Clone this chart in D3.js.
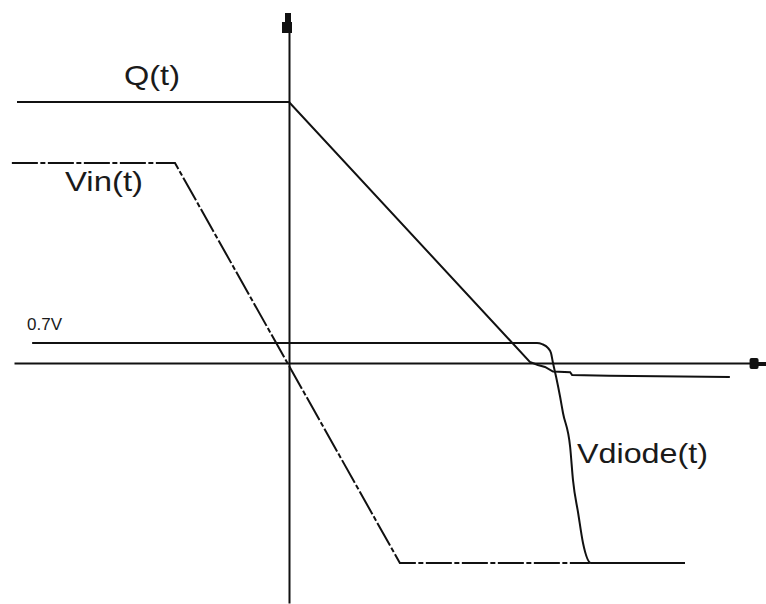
<!DOCTYPE html>
<html>
<head>
<meta charset="utf-8">
<script src="https://cdn.jsdelivr.net/npm/d3@7"></script>
<style>
  body { margin: 0; background: #fff; }
  svg { display: block; }
  text { font-family: "Liberation Sans", Arial, sans-serif; fill: #1a1a1a; }
</style>
</head>
<body>
<svg width="766" height="604"></svg>
<script>
// data (time units on x, signal units on y, 0.7V threshold = 0.7)
const qT    = [-9.52, 0, 8.43, 8.71, 8.96, 9.24, 9.84, 9.91, 11.2, 15.43];
const qV    = [9.135, 9.135, 0.04, -0.07, -0.14, -0.3, -0.32, -0.42, -0.45, -0.49];

const vinT  = [-9.7, -3.99, 3.88, 10.53];
const vinV  = [7.0, 7.0, -7.0, -7.0];

const vdT   = [-8.99, 8.68, 8.86, 9.07, 9.17, 9.24, 9.35, 9.49, 9.59, 9.84, 9.94, 10.12, 10.29, 10.57, 13.86];
const vdV   = [0.7, 0.7, 0.66, 0.52, 0.35, 0.0, -0.49, -1.19, -1.75, -2.94, -4.1, -5.25, -6.3, -7.0, -7.0];

const labels = ["Q(t)", "Vin(t)", "0.7V", "Vdiode(t)"];

let svg = d3.select('svg');

// scales: 0 on both axes sits at (289, 363)
let x = d3.scaleLinear().domain([-9.625, 16.625]).range([14, 764]);
let y = d3.scaleLinear().domain([-8.4, 12.25]).range([603, 13]);

let line = d3.line().x(d => x(d[0])).y(d => y(d[1]));

// axes, no ticks
svg.append('g')
  .attr('transform', `translate(0,${y(0)})`)
  .call(d3.axisBottom(x).tickValues([]).tickSizeOuter(0))
  .select('.domain').attr('stroke', '#111').attr('stroke-width', 2);
svg.append('g')
  .attr('transform', `translate(${x(0)},0)`)
  .call(d3.axisLeft(y).tickValues([]).tickSizeOuter(0))
  .select('.domain').attr('stroke', '#111').attr('stroke-width', 2);

// little arrow heads
let ax = x(0), ay = y(0), topY = y(12.25);
svg.append('path')
  .attr('d', `M${ax-4},${topY} L${ax+2},${topY} L${ax+2},${topY+9} L${ax+3},${topY+9} L${ax+3},${topY+20} L${ax-7},${topY+20} L${ax-7},${topY+9} L${ax-4},${topY+9} Z`)
  .attr('fill', '#111');
svg.append('rect')
  .attr('x', x(16.12)).attr('y', ay - 5).attr('width', 9).attr('height', 11)
  .attr('rx', 2).attr('fill', '#111');
svg.append('rect')
  .attr('x', x(16.12) + 8).attr('y', ay - 1).attr('width', 14).attr('height', 4)
  .attr('fill', '#111');

// Q(t)
svg.append('path')
  .datum(d3.zip(qT, qV))
  .attr('d', line)
  .attr('fill', 'none').attr('stroke', '#111').attr('stroke-width', 2);

// Vin(t), dash-dot with tight gaps
svg.append('path')
  .datum(d3.zip(vinT, vinV))
  .attr('d', line)
  .attr('fill', 'none').attr('stroke', '#111').attr('stroke-width', 2)
  .attr('stroke-dasharray', '26,2.5,5,2.5');

// Vdiode(t)
svg.append('path')
  .datum(d3.zip(vdT, vdV))
  .attr('d', line.curve(d3.curveMonotoneX))
  .attr('fill', 'none').attr('stroke', '#111').attr('stroke-width', 2);

// labels
svg.append('text').attr('x', 124).attr('y', 85)
  .attr('font-size', 28).attr('textLength', 56).attr('lengthAdjust', 'spacingAndGlyphs')
  .text(labels[0]);
svg.append('text').attr('x', 65).attr('y', 191)
  .attr('font-size', 28).attr('textLength', 78).attr('lengthAdjust', 'spacingAndGlyphs')
  .text(labels[1]);
svg.append('text').attr('x', 27).attr('y', 330)
  .attr('font-size', 17)
  .text(labels[2]);
svg.append('text').attr('x', 577).attr('y', 463)
  .attr('font-size', 28).attr('textLength', 131).attr('lengthAdjust', 'spacingAndGlyphs')
  .text(labels[3]);
</script>
</body>
</html>
